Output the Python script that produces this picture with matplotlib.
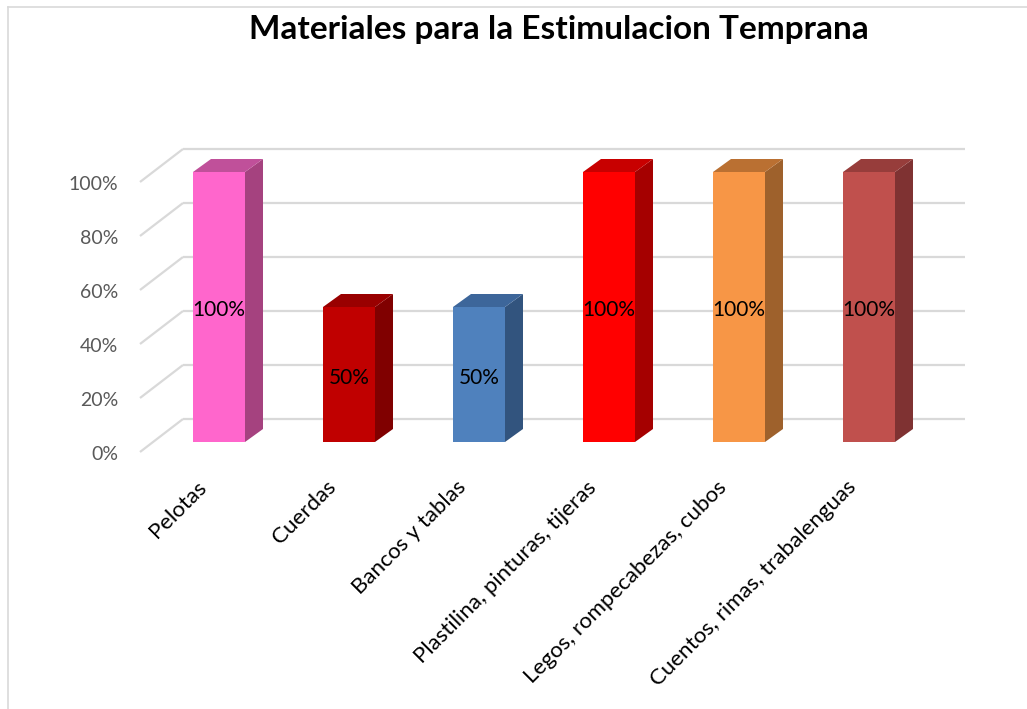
import matplotlib
matplotlib.use("Agg")
import matplotlib.pyplot as plt
from matplotlib.patches import Polygon
from matplotlib.lines import Line2D

categories = ["Pelotas", "Cuerdas", "Bancos y tablas", "Plastilina, pinturas, tijeras",
              "Legos, rompecabezas, cubos", "Cuentos, rimas, trabalenguas"]
values = [1.0, 0.5, 0.5, 1.0, 1.0, 1.0]
value_labels = ["100%", "50%", "50%", "100%", "100%", "100%"]
yticks = [0.0, 0.2, 0.4, 0.6, 0.8, 1.0]
ytick_labels = ["0%", "20%", "40%", "60%", "80%", "100%"]
front_colors = ["#FF66CC", "#C00000", "#4F81BD", "#FF0000", "#F79646", "#C0504D"]
side_colors = ["#A5427F", "#800000", "#32547E", "#A50000", "#9E612C", "#7F3232"]
top_colors = ["#C0509A", "#990000", "#3D669A", "#C80000", "#BA7032", "#973D3B"]
title = "Materiales para la Estimulacion Temprana"

FONT = "Lato"
W, H = 1027, 709
fig = plt.figure(figsize=(W / 100, H / 100), dpi=100)

# pixel mapping: category spacing 130 px, value 1.0 = 270 px
px_x0, sx = 219, 130.0
px_y0, sy = 442, 270.0
xlim = (-1.5, 6.2)
ylim = (-0.2, 1.5)
left_px = px_x0 + xlim[0] * sx
right_px = px_x0 + xlim[1] * sx
bot_px = px_y0 - ylim[0] * sy
top_px = px_y0 - ylim[1] * sy
ax = fig.add_axes([left_px / W, 1 - bot_px / H, (right_px - left_px) / W, (bot_px - top_px) / H])
ax.set_xlim(*xlim)
ax.set_ylim(*ylim)
ax.axis("off")

grid_c = "#D9D9D9"
# 3D wall offsets (data units)
back_dy = 23 / sy
front_dy = -10 / sy
wall_left_back = (183 - px_x0) / sx
wall_left_front = (140 - px_x0) / sx
wall_right = (965 - px_x0) / sx

for v in yticks:
    ax.plot([wall_left_back, wall_right], [v + back_dy, v + back_dy], color=grid_c, lw=1.6,
            zorder=1, solid_capstyle="butt")
    ax.plot([wall_left_front, wall_left_back], [v + front_dy, v + back_dy], color=grid_c, lw=1.6,
            zorder=1, solid_capstyle="butt")

for v, lab in zip(yticks, ytick_labels):
    ax.text((118 - px_x0) / sx, v + front_dy - 2 / sy, lab, ha="right", va="center",
            fontsize=14, color="#595959", family=FONT, clip_on=False)

bw = 52 / sx
ddx = 18 / sx
ddy = 13 / sy
xs = list(range(len(categories)))
ax.bar(xs, values, width=bw, color=front_colors, zorder=3, linewidth=0)
for x, v, sc, tc in zip(xs, values, side_colors, top_colors):
    r = x + bw / 2
    l = x - bw / 2
    ax.add_patch(Polygon([(r, 0), (r + ddx, ddy), (r + ddx, v + ddy), (r, v)],
                         closed=True, facecolor=sc, edgecolor="none", zorder=3))
    ax.add_patch(Polygon([(l, v), (r, v), (r + ddx, v + ddy), (l + ddx, v + ddy)],
                         closed=True, facecolor=tc, edgecolor="none", zorder=3))

for x, v, lab in zip(xs, values, value_labels):
    ax.text(x, v / 2 - 3 / sy, lab, ha="center", va="center", fontsize=15, color="black",
            family=FONT, zorder=5)

for x, lab in zip(xs, categories):
    ax.text(x - 23 / sx, -35 / sy, lab, ha="right", va="top", rotation=45,
            rotation_mode="anchor", fontsize=16, color="black", family=FONT, clip_on=False)

fig.text(559 / W, 1 - 30 / H, title, ha="center", va="center", fontsize=24,
         fontweight="bold", family=FONT, color="black")

# chart border (top and left visible)
fig.add_artist(Line2D([8 / W, 8 / W], [0, 1 - 7 / H], color=grid_c, lw=1.2))
fig.add_artist(Line2D([8 / W, 1], [1 - 7 / H, 1 - 7 / H], color=grid_c, lw=1.2))

fig.savefig("out.png", dpi=100, facecolor="white")
